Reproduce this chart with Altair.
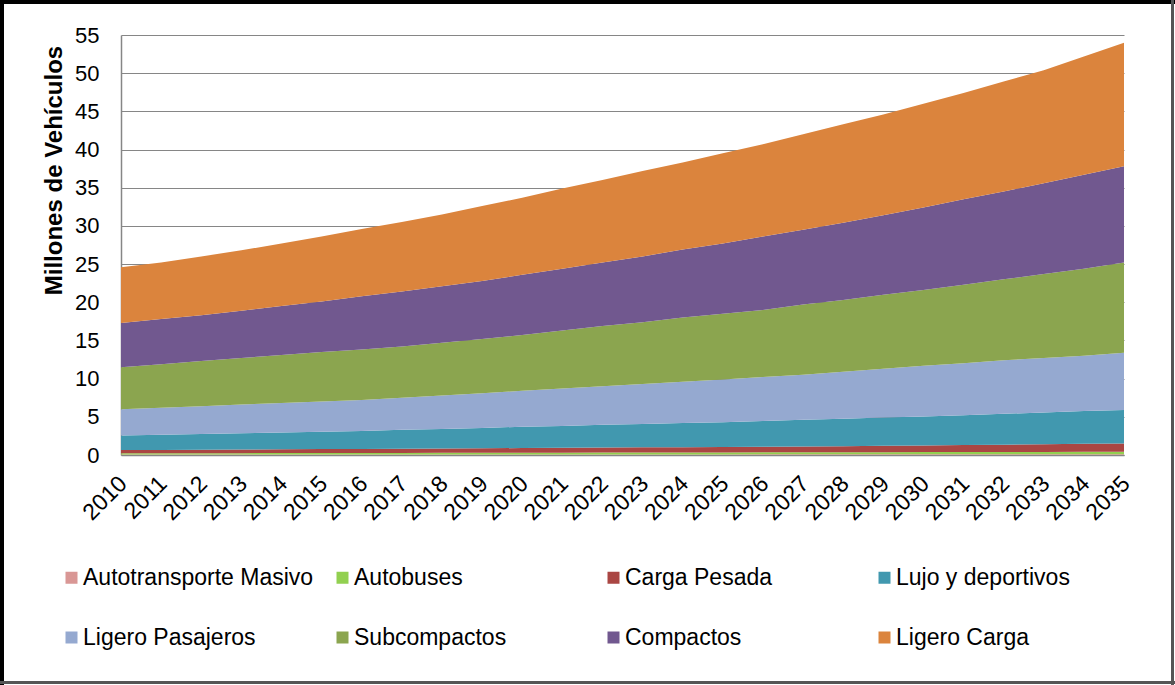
import altair as alt
import pandas as pd

anios = list(range(2010, 2036))

categorias = [
    "Autotransporte Masivo",
    "Autobuses",
    "Carga Pesada",
    "\u00a0\u00a0Lujo y deportivos",
    "Ligero Pasajeros",
    "Subcompactos",
    "Compactos",
    "Ligero Carga",
]

colores = ["#D99795", "#92D050", "#AA4643", "#4198AF", "#95A9D0", "#8BA54F", "#71588F", "#DB843D"]

autotransporte_masivo = [0.05, 0.05, 0.05, 0.05, 0.06, 0.06, 0.06, 0.06, 0.07, 0.07, 0.07, 0.07, 0.08,
                         0.08, 0.08, 0.08, 0.09, 0.09, 0.09, 0.09, 0.10, 0.10, 0.10, 0.10, 0.11, 0.11]
autobuses = [0.18, 0.18, 0.19, 0.19, 0.20, 0.20, 0.21, 0.21, 0.22, 0.22, 0.23, 0.23, 0.24,
             0.24, 0.25, 0.25, 0.26, 0.26, 0.27, 0.27, 0.28, 0.28, 0.29, 0.30, 0.30, 0.31]
carga_pesada = [0.42, 0.44, 0.46, 0.48, 0.49, 0.51, 0.53, 0.55, 0.56, 0.59, 0.61, 0.64, 0.65,
                0.68, 0.69, 0.72, 0.73, 0.76, 0.79, 0.84, 0.87, 0.92, 0.96, 1.00, 1.05, 1.10]
lujo_deportivos = [1.90, 1.98, 2.05, 2.13, 2.20, 2.28, 2.35, 2.48, 2.55, 2.67, 2.79, 2.86, 2.98,
                   3.05, 3.18, 3.25, 3.37, 3.49, 3.60, 3.70, 3.80, 3.90, 4.05, 4.15, 4.29, 4.38]
ligero_pasajeros = [3.45, 3.55, 3.65, 3.75, 3.85, 3.95, 4.05, 4.20, 4.40, 4.55, 4.70, 4.90, 5.05,
                    5.25, 5.40, 5.60, 5.75, 5.90, 6.15, 6.40, 6.65, 6.80, 7.00, 7.15, 7.25, 7.50]
subcompactos = [5.5, 5.7, 5.9, 6.1, 6.3, 6.5, 6.6, 6.7, 6.9, 7.1, 7.3, 7.6, 7.9,
                8.1, 8.4, 8.6, 8.8, 9.2, 9.4, 9.7, 9.9, 10.3, 10.6, 11.0, 11.4, 11.8]
compactos = [5.8, 5.9, 6.0, 6.2, 6.4, 6.6, 7.0, 7.2, 7.4, 7.6, 7.9, 8.1, 8.3,
             8.6, 8.9, 9.2, 9.6, 9.8, 10.1, 10.4, 10.8, 11.2, 11.5, 11.9, 12.3, 12.6]
ligero_carga = [7.3, 7.4, 7.7, 7.9, 8.2, 8.5, 8.8, 9.1, 9.4, 9.8, 10.1, 10.5, 10.8,
                11.2, 11.4, 11.8, 12.1, 12.5, 12.9, 13.2, 13.6, 13.9, 14.4, 14.8, 15.5, 16.2]

series = [autotransporte_masivo, autobuses, carga_pesada, lujo_deportivos,
          ligero_pasajeros, subcompactos, compactos, ligero_carga]

filas = []
for i, (cat, vals) in enumerate(zip(categorias, series)):
    for a, v in zip(anios, vals):
        filas.append({"anio": a, "tipo": cat, "valor": v, "orden": i})
df = pd.DataFrame(filas)

FONT = "Liberation Sans"
W, H = 1003, 420
LEFT, TOP = 121, 35
TOTAL_W, TOTAL_H = 1175, 685

areas = alt.Chart(df).mark_area(interpolate="linear").encode(
    x=alt.X(
        "anio:Q",
        scale=alt.Scale(domain=[2010, 2035], nice=False, zero=False),
        axis=alt.Axis(
            values=anios, format="d", labelAngle=-45, labelAlign="right", labelBaseline="top",
            labelFontSize=23, labelFont=FONT, labelColor="#000000", labelPadding=17, labelOffset=-6,
            ticks=False, tickSize=0, grid=False, domainColor="#868686", domainWidth=1.5,
            title=None, labelOverlap=False, labelFlush=False,
        ),
    ),
    y=alt.Y(
        "valor:Q",
        stack="zero",
        scale=alt.Scale(domain=[0, 55], nice=False),
        axis=alt.Axis(
            values=list(range(0, 56, 5)), labelFontSize=22, labelFont=FONT, labelColor="#000000",
            labelPadding=22, ticks=False, tickSize=0, grid=True, gridColor="#868686", gridWidth=1,
            domainColor="#868686", domainWidth=1.5,
            title="Millones de Vehículos", titleFont=FONT, titleFontSize=24, titleFontWeight="bold",
            titleColor="#000000", titleAngle=-90, titleAlign="center", titleBaseline="alphabetic",
            titleX=-60, titleY=135,
        ),
    ),
    color=alt.Color(
        "tipo:N",
        scale=alt.Scale(domain=categorias, range=colores),
        legend=alt.Legend(
            orient="none", legendX=-61, legendY=531, columns=4, direction="horizontal",
            gridAlign="all",
            symbolType="square", symbolSize=144, symbolStrokeWidth=0, symbolOpacity=1,
            labelFontSize=23, labelFont=FONT, labelColor="#000000", labelLimit=400, labelOffset=0,
            columnPadding=17, rowPadding=36, padding=0, title=None,
        ),
    ),
    order=alt.Order("orden:Q", sort="ascending"),
)

marco = pd.DataFrame({"k": [0]})
borde_sup = alt.Chart(marco).mark_rule(color="#000000", strokeWidth=4).encode(
    x=alt.value(-LEFT), x2=alt.value(TOTAL_W - LEFT), y=alt.value(2 - TOP))
borde_izq = alt.Chart(marco).mark_rule(color="#000000", strokeWidth=4).encode(
    x=alt.value(2 - LEFT), y=alt.value(-TOP), y2=alt.value(TOTAL_H - TOP))
borde_der = alt.Chart(marco).mark_rule(color="#555555", strokeWidth=3).encode(
    x=alt.value(TOTAL_W - 2.5 - LEFT), y=alt.value(-TOP), y2=alt.value(TOTAL_H - TOP))
borde_inf = alt.Chart(marco).mark_rule(color="#555555", strokeWidth=3).encode(
    x=alt.value(-LEFT), x2=alt.value(TOTAL_W - LEFT), y=alt.value(TOTAL_H - 2.5 - TOP))

chart = alt.layer(areas, borde_sup, borde_izq, borde_der, borde_inf).properties(
    width=W, height=H,
    autosize=alt.AutoSizeParams(type="none"),
    padding={"left": LEFT, "top": TOP, "right": TOTAL_W - LEFT - W, "bottom": TOTAL_H - TOP - H},
    background="#FFFFFF",
).configure_view(stroke="transparent")

chart.save("out.html", embed_options={"renderer": "svg", "actions": False})
